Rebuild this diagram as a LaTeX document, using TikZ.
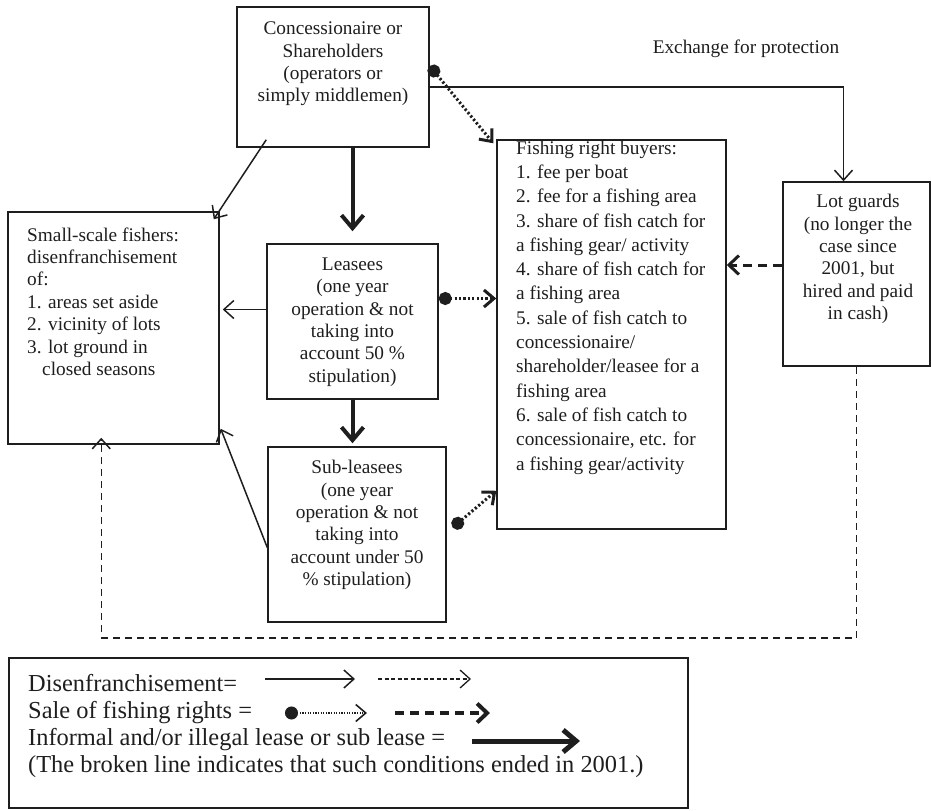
\documentclass[tikz,border=0pt]{standalone}
\usepackage{fontspec}
\setmainfont{Liberation Serif}
\usetikzlibrary{arrows.meta, positioning, calc}
\definecolor{inkgray}{RGB}{30, 30, 30}

\begin{document}
\begin{tikzpicture}[
    x=1pt, y=-1pt,
    box/.style={rectangle, draw=inkgray, line width=1.5pt, inner sep=0pt},
    txt/.style={font=\fontsize{19.3}{22.4}\selectfont, text=inkgray, align=center, inner sep=0pt},
    legendtxt/.style={font=\fontsize{24.4}{27}\selectfont, text=inkgray, inner sep=0pt, anchor=base west},
    thinarrow/.style={draw=inkgray, line width=1.5pt, -{Straight Barb[length=10pt, width=18pt]}},
    brokenarrow/.style={thinarrow, dash pattern=on 7pt off 5pt},
    leasearrow/.style={draw=inkgray, line width=4pt, -{Straight Barb[length=13pt, width=22pt]}},
    salearrow/.style={draw=inkgray, line width=3pt, dash pattern=on 2.2pt off 2.2pt, {Circle[length=13pt]}-{Straight Barb[length=10pt, width=17pt]}},
    guardarrow/.style={draw=inkgray, line width=3pt, dash pattern=on 9pt off 6pt, -{Straight Barb[length=10pt, width=19pt]}}
]
\useasboundingbox (0,0) rectangle (932,811);

% Boxes
\node (conc) [box, minimum width=192pt, minimum height=140pt] at (333,77) {};
\node (fishers) [box, minimum width=211pt, minimum height=232pt] at (113.5,328) {};
\node (leasees) [box, minimum width=171pt, minimum height=155pt] at (352.5,321.5) {};
\node (subleasees) [box, minimum width=178pt, minimum height=175pt] at (357,534.5) {};
\node (buyers) [box, minimum width=229pt, minimum height=389pt] at (611.5,334.5) {};
\node (guards) [box, minimum width=147pt, minimum height=184pt] at (856.5,274) {};

% Box texts
\node (conc-text) [txt] at (333,64) {Concessionaire or\\Shareholders\\(operators or\\simply middlemen)};
\node (fishers-text) [txt, align=left, anchor=west] at (27,301.5) {Small-scale fishers:\\disenfranchisement\\of:\\1. areas set aside\\2. vicinity of lots\\3. lot ground in\\\hspace*{15pt}closed seasons};
\node (leasees-text) [txt] at (352.5,322) {Leasees\\(one year\\operation \& not\\taking into\\account 50 \%\\stipulation)};
\node (subleasees-text) [txt] at (357,525) {Sub-leasees\\(one year\\operation \& not\\taking into\\account under 50\\\% stipulation)};
\node (buyers-text) [txt, align=left, anchor=west, font=\fontsize{19.3}{24.3}\selectfont] at (516,307.5) {Fishing right buyers:\\1. fee per boat\\2. fee for a fishing area\\3. share of fish catch for\\a fishing gear/ activity\\4. share of fish catch for\\a fishing area\\5. sale of fish catch to\\concessionaire/\\shareholder/leasee for a\\fishing area\\6. sale of fish catch to\\concessionaire, etc. for\\a fishing gear/activity};
\node (guards-text) [txt] at (858,259) {Lot guards\\(no longer the\\case since\\2001, but\\hired and paid\\in cash)};
\node (exchange) [txt] at (746,49) {Exchange for protection};

% Connectors
\draw [thinarrow] ($(conc.south west)+(30,-8)$) -- ($(fishers.north east)+(-6,8)$);
\draw [leasearrow] (conc.south -| leasees.north) -- ($(leasees.north)+(0,-12)$);
\draw [leasearrow] (leasees.south) -- ($(leasees.south |- subleasees.north)+(0,-3)$);
\draw [thinarrow] ($(leasees.west)+(0,-12)$) -- ($(fishers.east |- leasees.west)+(3,-12)$);
\draw [thinarrow] ($(subleasees.west)+(0,13)$) -- ($(fishers.south east)+(1,-16)$);
\draw [salearrow] ($(conc.east)+(0,-11)$) -- ($(buyers.north west)+(-3,4)$);
\draw [thinarrow] ($(conc.east)+(0,10)$) -| ($(guards.north)+(-13,0)$);
\draw [salearrow] ($(leasees.east)+(0,-23)$) -- ($(buyers.west |- leasees.east)+(0,-23)$);
\draw [salearrow] ($(subleasees.east)+(6,-7)$) -- ($(buyers.south west)+(0,-39)$);
\draw [guardarrow] ($(guards.west)+(0,-9)$) -- ($(buyers.east |- guards.west)+(0,-9)$);
\draw [brokenarrow] (guards.south) |- ($(fishers.south west)+(94,193)$) -- ($(fishers.south west)+(94,-7)$);

% Legend
\node (legend) [box, minimum width=679pt, minimum height=150pt] at (348.5,733) {};
\node (legend-dis) [legendtxt] at (28,691) {Disenfranchisement=};
\node (legend-sale) [legendtxt] at (28,718) {Sale of fishing rights =};
\node (legend-lease) [legendtxt] at (28,745) {Informal and/or illegal lease or sub lease =};
\node (legend-note) [legendtxt] at (28,772) {(The broken line indicates that such conditions ended in 2001.)};
\draw [thinarrow] (265,679) -- (355,679);
\draw [thinarrow, line width=1.3pt, dash pattern=on 4pt off 2.5pt] (378,679) -- (471,679);
\draw [salearrow, line width=1.6pt, dash pattern=on 1.2pt off 1.4pt] (285,713) -- (367,713);
\draw [guardarrow, line width=4pt] (395,713) -- (490,713);
\draw [leasearrow, line width=5pt] (472,741) -- (580,741);

\end{tikzpicture}
\end{document}
